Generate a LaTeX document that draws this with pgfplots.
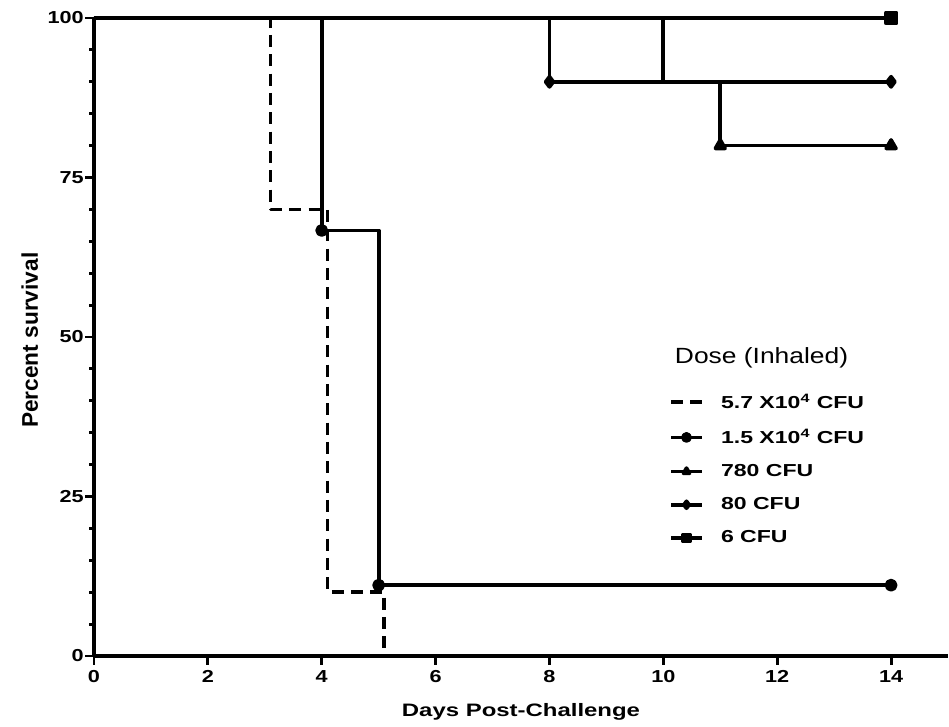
\documentclass[border=0pt]{standalone}
\usepackage{pgfplots}
\pgfplotsset{compat=1.18}
\usepackage{fontspec}
\setmainfont{Liberation Sans}
\usepackage{graphicx}
\newcommand{\sx}[1]{\scalebox{1.33}[1]{#1}}
\newcommand{\tx}[1]{\scalebox{1.25}[1]{#1}}
\begin{document}
\begin{tikzpicture}
\begin{axis}[
  scale only axis, width=640.5pt, height=478.5pt,
  xmin=0, xmax=15, ymin=0, ymax=100,
  axis x line*=bottom, axis y line*=left,
  axis line style={line width=3pt, -},
  xtick={0,2,...,14}, ytick={0,25,50,75,100},
  xticklabels={\tx{0},\tx{2},\tx{4},\tx{6},\tx{8},\tx{10},\tx{12},\tx{14}},
  yticklabels={\tx{0},\tx{25},\tx{50},\tx{75},\tx{100}},
  minor ytick={5,10,15,20,30,35,40,45,55,60,65,70,80,85,90,95},
  tick align=outside, major tick length=6.5pt, minor tick length=3.5pt,
  every tick/.style={line width=2.2pt, black},
  tick label style={font=\fontsize{13}{15}\selectfont\bfseries},
  yticklabel style={inner sep=1pt},
  xticklabel style={inner sep=1pt, yshift=-3pt},
  xlabel={\sx{\fontsize{13.5}{16}\selectfont\bfseries Days Post-Challenge}},
  xlabel style={at={(axis description cs:0.5,0)}, anchor=base, yshift=-45pt},
  clip=false,
  legend style={draw=none, fill=none, at={(axis cs:10.1,41.3)}, anchor=north west,
    inner sep=0pt, row sep=12.3pt,
    nodes={inner sep=1pt, anchor=west},
    /tikz/every odd column/.append style={column sep=12pt}},
  legend cell align=left,
  legend image code/.code={\draw[#1, mark indices={2}, mark size=2.6pt] plot coordinates {(0pt,0pt) (11.5pt,0pt) (23pt,0pt)};},
  every axis plot/.append style={line width=2.8pt, line join=round},
]
% 5.7 x 10^4 CFU
\addplot[black, dash pattern=on 9pt off 5.5pt, mark=none] coordinates {
 (0,100) (3.1,100) (3.1,70) (4.1,70) (4.1,10) (5.1,10) (5.1,0)};
\addlegendentry{\sx{\fontsize{13}{15}\selectfont\bfseries 5.7 X10\textsuperscript{4} CFU}}
% 1.5 x 10^4 CFU
\addplot[black, mark=*, mark size=3.4pt, mark indices={3,5,6}] coordinates {
 (0,100) (4,100) (4,66.7) (5,66.7) (5,11.1) (14,11.1)};
\addlegendentry{\sx{\fontsize{13}{15}\selectfont\bfseries 1.5 X10\textsuperscript{4} CFU}}
% 780 CFU
\addplot[black, mark=triangle*, mark size=4.2pt, mark indices={5,6}] coordinates {
 (0,100) (10,100) (10,90) (11,90) (11,80) (14,80)};
\addlegendentry{\sx{\fontsize{13}{15}\selectfont\bfseries 780 CFU}}
% 80 CFU
\addplot[black, mark=diamond*, mark size=3.8pt, mark indices={3,4}] coordinates {
 (0,100) (8,100) (8,90) (14,90)};
\addlegendentry{\sx{\fontsize{13}{15}\selectfont\bfseries 80 CFU}}
% 6 CFU
\addplot[black, mark=square*, mark size=4pt, mark indices={2}] coordinates {
 (0,100) (14,100)};
\addlegendentry{\sx{\fontsize{13}{15}\selectfont\bfseries 6 CFU}}
\node[anchor=west, inner sep=0pt] at (axis cs:10.2,46.8) {\scalebox{1.2}[1]{\fontsize{16.5}{19}\selectfont Dose (Inhaled)}};
\node[rotate=90, anchor=base, inner sep=0pt] at ([xshift=-42pt]rel axis cs:0,0.495) {\fontsize{17}{20}\selectfont\bfseries Percent survival};
\end{axis}
\pgfresetboundingbox
\path[use as bounding box] (-70.5pt,-52.5pt) rectangle (641.25pt,492pt);
\end{tikzpicture}
\end{document}
